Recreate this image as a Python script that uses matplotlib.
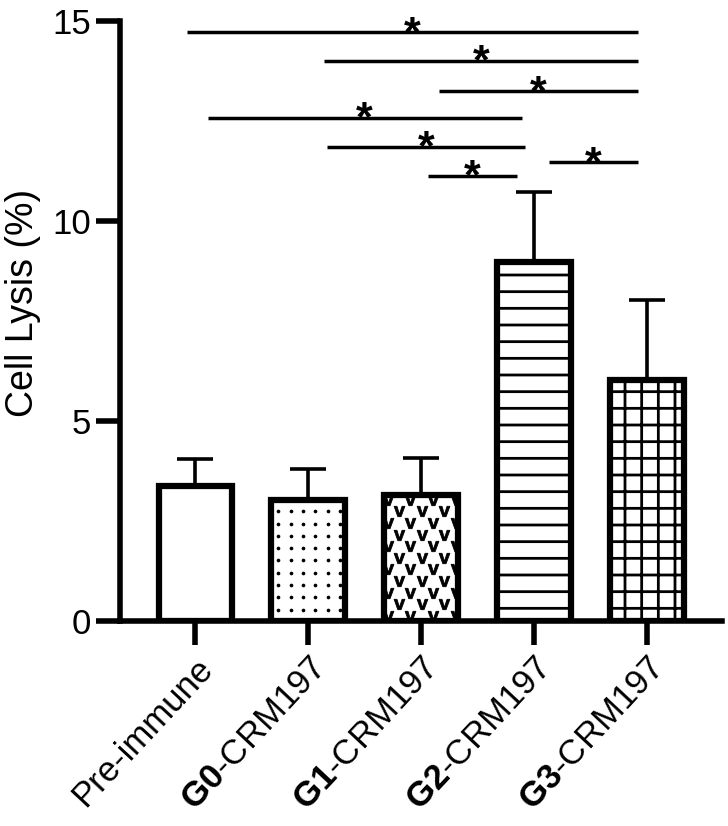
import matplotlib
matplotlib.use('Agg')
import matplotlib.pyplot as plt
import numpy as np

plt.rcParams['font.family'] = ['Liberation Sans', 'DejaVu Sans']
plt.rcParams['mathtext.fontset'] = 'custom'
plt.rcParams['mathtext.rm'] = 'Liberation Sans'
plt.rcParams['mathtext.bf'] = 'Liberation Sans:bold'
plt.rcParams['hatch.linewidth'] = 2.0

# datos
grupos = ['Pre-immune', r'$\mathbf{G0}$-CRM197', r'$\mathbf{G1}$-CRM197',
          r'$\mathbf{G2}$-CRM197', r'$\mathbf{G3}$-CRM197']
lisis = [3.38, 3.02, 3.15, 8.97, 6.02]
error = [0.67, 0.78, 0.93, 1.74, 2.00]
tramas = ['', None, None, '-', '+']   # None -> relleno propio (puntos / v)

# comparaciones significativas: (x inicio, x fin, altura)
sig_x0 = [-0.07, 1.14, 2.16, 0.11, 1.17, 2.06, 3.13]
sig_x1 = [3.92, 3.92, 3.92, 2.89, 2.92, 2.85, 3.92]
sig_y = [14.71, 14.0, 13.23, 12.57, 11.85, 11.12, 11.46]

fig = plt.figure(figsize=(7.28, 8.26), dpi=100)
ax = fig.add_axes([0.165, 0.2482, 0.827, 0.7268])

x = np.arange(len(grupos))
ancho = 0.65

ax.errorbar(x, lisis, yerr=[np.zeros(len(x)), error], fmt='none', ecolor='black',
            elinewidth=2.6, capsize=13, capthick=2.6, zorder=1)

barras = ax.bar(x, lisis, width=ancho, color='white', edgecolor='black',
                linewidth=4.5, zorder=2)
for b, t in zip(barras, tramas):
    if t:
        b.set_hatch(t)

# relleno de puntos (G0) y de "v" (G1), recortado a la barra
b0 = barras[1]
px = np.arange(b0.get_x() + 0.06, b0.get_x() + ancho, 0.109)
py = np.arange(lisis[1] - 0.28, 0, -0.307)
gx, gy = np.meshgrid(px, py)
pts = ax.scatter(gx.ravel(), gy.ravel(), s=7, color='black', zorder=2.5, linewidths=0)
pts.set_clip_path(b0)

b1 = barras[2]
vx, vy = [], []
for k, yy in enumerate(np.arange(lisis[2] - 0.12, -0.2, -0.29)):
    off = 0.0 if k % 2 == 0 else 0.1
    for xx in np.arange(b1.get_x() + 0.03 + off, b1.get_x() + ancho + 0.1, 0.2):
        vx.append(xx); vy.append(yy)
vs = ax.scatter(vx, vy, marker=r'$\mathbf{v}$', s=60, color='black', zorder=2.5, linewidths=0.6,
                edgecolors='black')
vs.set_clip_path(b1)

# líneas de significancia
for a, b, h in zip(sig_x0, sig_x1, sig_y):
    ax.plot([a, b], [h, h], color='black', lw=2.5, solid_capstyle='butt', clip_on=False, zorder=3)
    ax.annotate('*', xy=((a + b) / 2, h), xytext=(0, -9), textcoords='offset points',
                ha='center', va='baseline', fontsize=31, fontweight='bold', annotation_clip=False)

ax.set_xlim(-0.665, 4.665)
ax.set_ylim(0, 15)
ax.set_yticks([0, 5, 10, 15])
ax.set_xticks(x)
ax.set_xticklabels(grupos, rotation=47, ha='right', rotation_mode='anchor', fontsize=25)
ax.tick_params(axis='y', labelsize=25, length=17, width=4, pad=4)
ax.tick_params(axis='x', length=17, width=4, pad=5)
ax.set_ylabel('Cell Lysis (%)', fontsize=27)
ax.yaxis.set_label_coords(-0.132, 0.53)

for s in ['top', 'right']:
    ax.spines[s].set_visible(False)
for s in ['left', 'bottom']:
    ax.spines[s].set_linewidth(4)

fig.savefig('out.png', dpi=100)
